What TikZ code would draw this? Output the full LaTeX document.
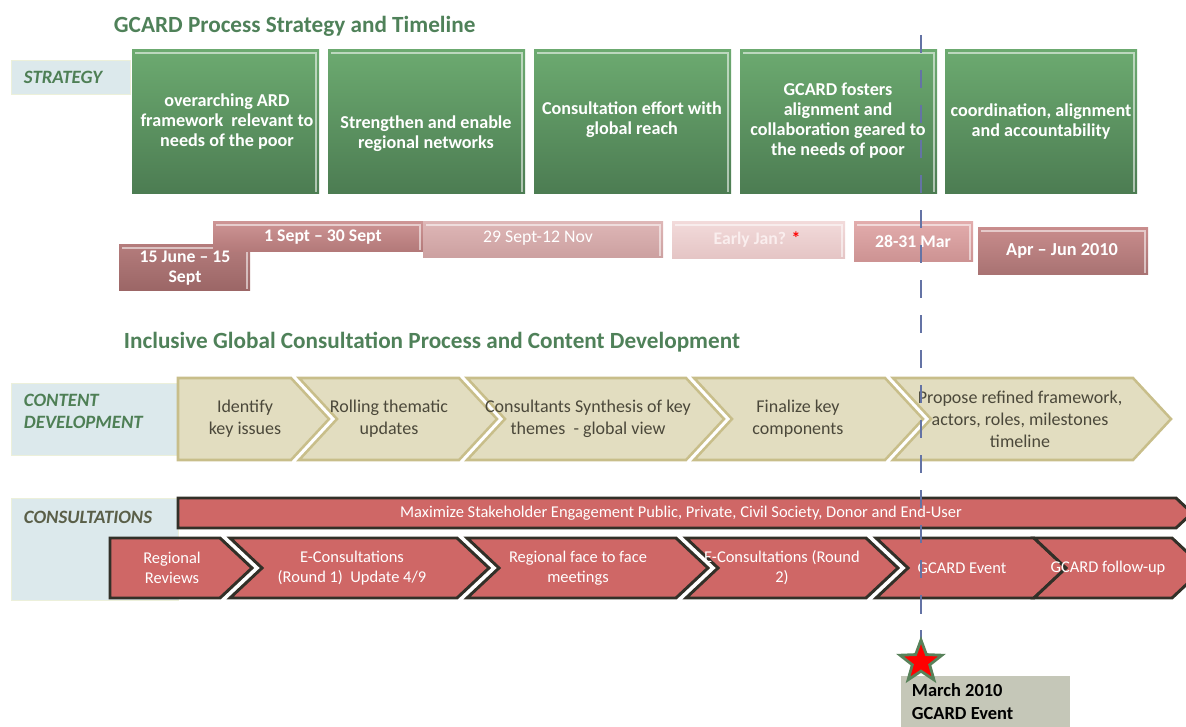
\documentclass[tikz,border=0pt]{standalone}
\usepackage{fontspec}
\setmainfont{Carlito}
\usetikzlibrary{shapes.geometric}
\definecolor{titlegreen}{RGB}{79,129,89}
\definecolor{labelfill}{RGB}{220,233,236}
\definecolor{labelline}{RGB}{236,240,218}
\definecolor{labeltext}{RGB}{78,127,85}
\definecolor{labeldark}{RGB}{90,95,72}
\definecolor{greentop}{RGB}{108,170,112}
\definecolor{greenbot}{RGB}{76,124,82}
\definecolor{tanfill}{RGB}{226,221,192}
\definecolor{tanline}{RGB}{200,190,138}
\definecolor{tantext}{RGB}{75,72,58}
\definecolor{redfill}{RGB}{207,103,102}
\definecolor{redline}{RGB}{50,48,40}
\definecolor{markline}{RGB}{100,115,165}
\definecolor{notefill}{RGB}{197,199,184}
\definecolor{stargreen}{RGB}{88,130,90}
\tikzset{
  heading/.style={anchor=west,text=titlegreen,font=\fontsize{16.5}{19}\selectfont\bfseries},
  labelbox/.style={fill=labelfill,draw=labelline,line width=0.6pt},
  rowlabel/.style={anchor=west,align=left,text=labeltext,font=\fontsize{13.4}{15.6}\selectfont\bfseries\itshape},
  strattext/.style={align=center,text=white,font=\fontsize{12.9}{14.2}\selectfont\bfseries},
  bevel/.style={draw=white,draw opacity=0.55,line width=1pt},
  datetext/.style={align=center,text=white,font=\fontsize{12.6}{14.2}\selectfont\bfseries},
  cdarrow/.style={fill=tanfill,draw=tanline,line width=1.8pt,line join=miter},
  cdtext/.style={align=center,text=tantext,font=\fontsize{12.8}{15.6}\selectfont},
  conarrow/.style={fill=redfill,draw=redline,line width=2.1pt,line join=miter},
  context/.style={align=center,text=white,font=\fontsize{11.7}{14.2}\selectfont},
}
\begin{document}
\begin{tikzpicture}[x=0.025cm,y=-0.025cm]
\useasboundingbox (0,0) rectangle (1186,727);
% strategy
\node[heading] (title1) at (109,26) {GCARD Process Strategy and Timeline};
\draw[labelbox] (11,60) rectangle (130,94);
\node[rowlabel] (lstrat) at (19,77) {STRATEGY};
\foreach \a/\b in {132/319, 328/525, 534/731, 740/937, 945/1137} {
  \shade[top color=greentop,bottom color=greenbot] (\a,50) rectangle (\b,194);
  \draw[bevel] (\a+3,53) -- (\b-3,53) -- (\b-3,192);
}
\node[strattext] (s1) at (227,122) {overarching ARD\\framework\ \ relevant to\\needs of the poor};
\node[strattext] (s2) at (426,134) {Strengthen and enable\\regional networks};
\node[strattext] (s3) at (632,120) {Consultation effort with\\global reach};
\node[strattext] (s4) at (838,121) {GCARD fosters\\alignment and\\collaboration geared to\\the needs of poor};
\node[strattext] (s5) at (1041,122) {coordination, alignment\\and accountability};
% dates
\shade[top color={rgb,255:red,180;green,124;blue,124},bottom color={rgb,255:red,155;green,102;blue,102}] (119,245) rectangle (250,291);
\draw[bevel] (122,248) -- (247,248) -- (247,289);
\shade[top color={rgb,255:red,205;green,148;blue,148},bottom color={rgb,255:red,178;green,120;blue,120}] (213,222) rectangle (423,252);
\draw[bevel] (216,225) -- (420,225) -- (420,250);
\shade[top color={rgb,255:red,222;green,182;blue,182},bottom color={rgb,255:red,204;green,160;blue,160}] (423,222) rectangle (663,258);
\draw[bevel] (426,225) -- (660,225) -- (660,256);
\shade[top color={rgb,255:red,242;green,218;blue,218},bottom color={rgb,255:red,228;green,196;blue,196}] (672,222) rectangle (845,259);
\draw[bevel] (675,225) -- (842,225) -- (842,257);
\shade[top color={rgb,255:red,226;green,172;blue,172},bottom color={rgb,255:red,204;green,146;blue,146}] (854,222) rectangle (973,262);
\draw[bevel] (857,225) -- (970,225) -- (970,260);
\shade[top color={rgb,255:red,200;green,140;blue,140},bottom color={rgb,255:red,168;green,114;blue,114}] (978,228) rectangle (1148,275);
\draw[bevel] (981,231) -- (1145,231) -- (1145,273);
\node[datetext] (d1) at (185,268) {15 June -- 15\\Sept};
\node[datetext] (d2) at (323,237) {1 Sept -- 30 Sept};
\node[datetext,font=\fontsize{12.6}{14.2}\selectfont] (d3) at (538,238) {29 Sept-12 Nov};
\node[datetext,text={rgb,255:red,250;green,238;blue,238}] (d4) at (757,240) {Early Jan? \textcolor{red}{*}};
\node[datetext] (d5) at (913,241) {28-31 Mar};
\node[datetext,font=\fontsize{13}{14.2}\selectfont\bfseries] (d6) at (1062,251) {Apr -- Jun 2010};
% content development
\node[heading] (title2) at (119,342) {Inclusive Global Consultation Process and Content Development};
\draw[labelbox] (11,383) rectangle (178,455);
\node[rowlabel] (lcont) at (19,411) {CONTENT\\DEVELOPMENT};
\draw[cdarrow] (178,378) -- (291,378) -- (329,419) -- (291,460) -- (178,460) -- cycle;
\foreach \a/\b in {299/459, 467/686, 694/885, 893/1133}
  \draw[cdarrow] (\a,378) -- (\b,378) -- (\b+38,419) -- (\b,460) -- (\a,460) -- (\a+38,419) -- cycle;
\node[cdtext] (c1) at (245,419) {Identify\\key issues};
\node[cdtext] (c2) at (389,419) {Rolling thematic\\updates};
\node[cdtext] (c3) at (588,419) {Consultants Synthesis of key\\themes\ \ - global view};
\node[cdtext] (c4) at (798,419) {Finalize key\\components};
\node[cdtext] (c5) at (1020,419) {Propose refined framework,\\actors, roles, milestones\\timeline};
% consultations
\draw[labelbox] (11,498) rectangle (178,600);
\node[rowlabel,text=labeldark] (lcons) at (19,517) {CONSULTATIONS};
\draw[conarrow] (178,498) -- (1176,498) -- (1192,513) -- (1176,528) -- (178,528) -- cycle;
\node[context] (m0) at (681,513) {Maximize Stakeholder Engagement Public, Private, Civil Society, Donor and End-User};
\draw[conarrow] (110,538) -- (220,538) -- (252,568) -- (220,598) -- (110,598) -- cycle;
\foreach \a/\b in {230/457, 467/676, 686/866, 876/1034, 1034/1172}
  \draw[conarrow] (\a,538) -- (\b,538) -- (\b+32,568) -- (\b,598) -- (\a,598) -- (\a+32,568) -- cycle;
\node[context] (m1) at (172,568) {Regional\\Reviews};
\node[context] (m2) at (352,568) {E-Consultations\\(Round 1)\ \ Update 4/9};
\node[context] (m3) at (578,568) {Regional face to face\\meetings};
\node[context] (m4) at (782,568) {E-Consultations (Round\\2)};
\node[context] (m5) at (962,568) {GCARD Event};
\node[context] (m6) at (1108,568) {GCARD follow-up};
% event marker
\coordinate (mtop) at (921,35);
\coordinate (mbot) at (921,655);
\draw[markline,line width=1.3pt,dash pattern=on 13pt off 11.9pt] (mtop) -- (mbot);
\fill[notefill] (901,676) rectangle (1070,727);
\node[star,star points=5,star point ratio=2.4,minimum size=1.1cm,inner sep=0pt,fill=red,draw=stargreen,line width=2pt] (ev) at (921,662) {};
\node[anchor=north west,align=left,font=\fontsize{13.1}{16.4}\selectfont\bfseries] (note) at (907,679) {March 2010\\GCARD Event};
\end{tikzpicture}
\end{document}
